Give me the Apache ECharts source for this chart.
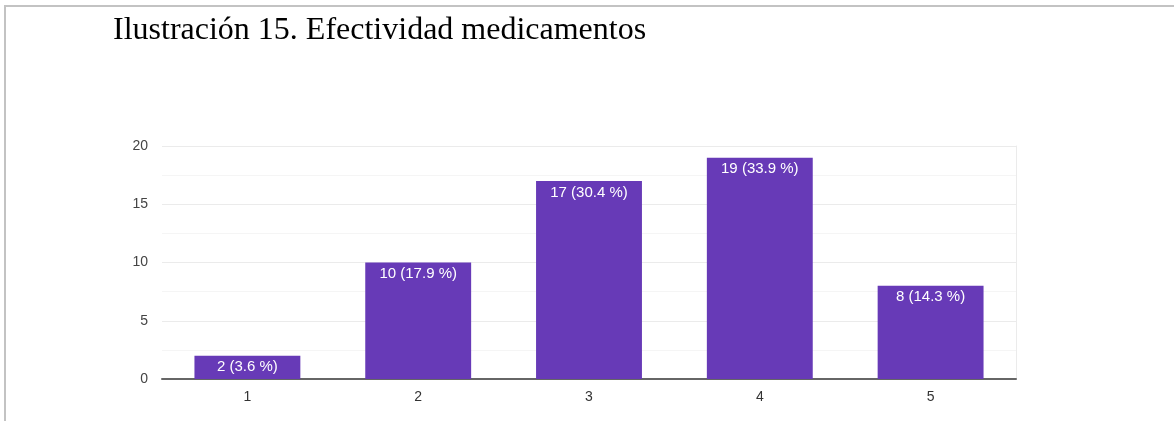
<!DOCTYPE html>
<html><head><meta charset="utf-8">
<script src="https://cdn.jsdelivr.net/npm/echarts@6/dist/echarts.min.js"></script>
<style>html,body{margin:0;padding:0;background:#fff}#c{width:1174px;height:421px}</style>
</head><body><div id="c"></div>
<script>
const titleText = "Ilustración 15. Efectividad medicamentos";
const categories = ["1", "2", "3", "4", "5"];
const counts = [2, 10, 17, 19, 8];
const percents = ["3.6", "17.9", "30.4", "33.9", "14.3"];
const yTicks = [0, 5, 10, 15, 20];

const chart = echarts.init(document.getElementById('c'));
chart.setOption({
  animation: false,
  backgroundColor: '#fff',
  title: {
    text: titleText, left: 108, top: 10,
    textStyle: { fontFamily: 'Liberation Serif', fontSize: 32, fontWeight: 'normal', color: '#000' }
  },
  graphic: [{
    type: 'rect', shape: { x: 5, y: 6, width: 1300, height: 600 },
    style: { fill: 'none', stroke: '#c3c3c3', lineWidth: 2 }, silent: true
  }],
  grid: { left: 162, right: 158, top: 146, bottom: 42 },
  xAxis: {
    type: 'category', data: categories,
    axisLine: { lineStyle: { color: '#666', width: 2 } },
    axisTick: { show: false },
    axisLabel: { color: '#333', fontFamily: 'Liberation Sans', fontSize: 14, margin: 11 }
  },
  yAxis: [{
    type: 'value', min: yTicks[0], max: yTicks[yTicks.length - 1], interval: 5,
    axisLine: { show: false }, axisTick: { show: false },
    axisLabel: { color: '#444', fontFamily: 'Liberation Sans', fontSize: 14, margin: 14 },
    splitLine: { lineStyle: { color: '#ebebeb', width: 1 } },
    minorTick: { show: false, splitNumber: 2 },
    minorSplitLine: { show: true, lineStyle: { color: '#f5f5f5', width: 1 } }
  }, {
    type: 'value', position: 'right', min: yTicks[0], max: yTicks[yTicks.length - 1], interval: 5,
    axisLine: { show: true, lineStyle: { color: '#ebebeb' } },
    axisTick: { show: false }, axisLabel: { show: false }, splitLine: { show: false }
  }],
  series: [{
    type: 'bar', data: counts, barWidth: '62%',
    itemStyle: { color: '#673ab7' },
    label: {
      show: true, position: 'insideTop', distance: 4,
      color: '#fff', fontFamily: 'Liberation Sans', fontSize: 15,
      formatter: p => p.value + ' (' + percents[p.dataIndex] + ' %)'
    }
  }]
});
</script></body></html>
